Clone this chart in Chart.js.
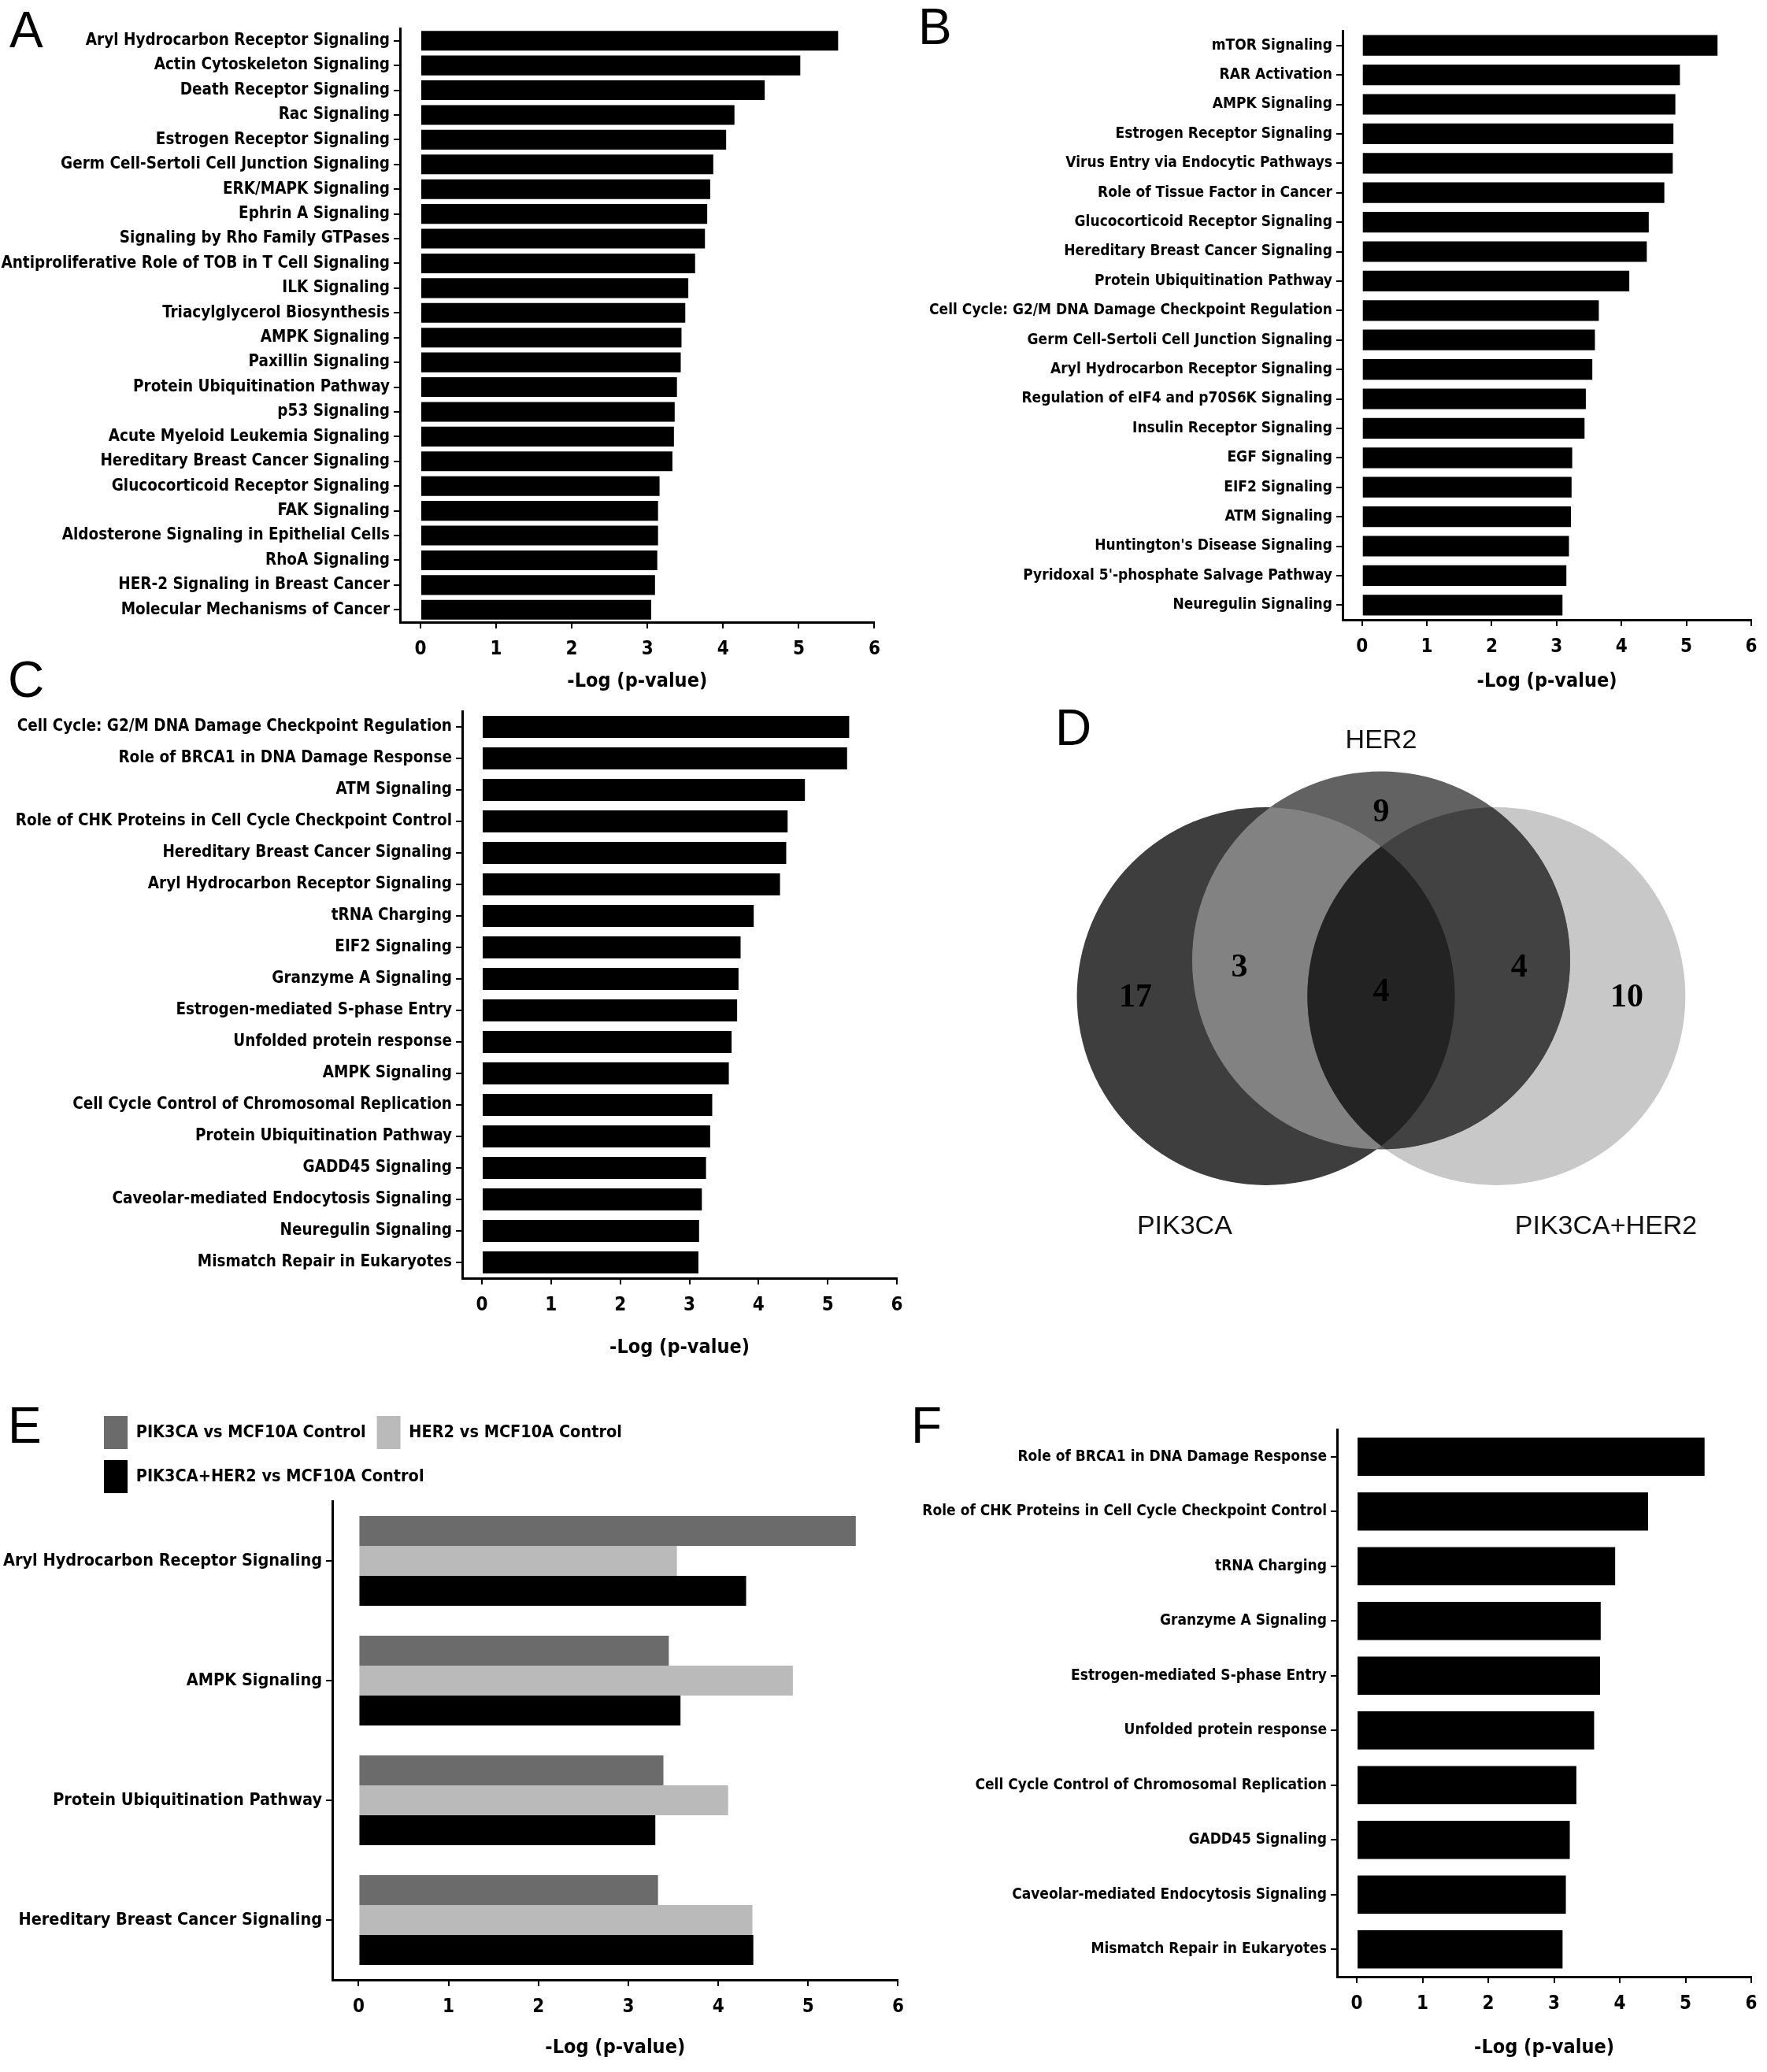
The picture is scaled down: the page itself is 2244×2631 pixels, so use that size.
<!DOCTYPE html>
<html>
<head>
<meta charset="utf-8">
<script src="https://cdn.jsdelivr.net/npm/chart.js@4.4.1/dist/chart.umd.min.js"></script>
<style>
  body { margin: 0; background: #fff; width: 2244px; height: 2631px; position: relative; overflow: hidden; }
  canvas { position: absolute; }
  .tag { position: absolute; font-family: 'Liberation Sans', Arial, sans-serif; font-size: 64px; line-height: 1; color: #000; }
</style>
</head>
<body>
<div class="tag" style="left:12px;top:6px">A</div>
<div class="tag" style="left:1166px;top:2px">B</div>
<div class="tag" style="left:10px;top:831px">C</div>
<div class="tag" style="left:1340px;top:892px">D</div>
<div class="tag" style="left:10px;top:1778px">E</div>
<div class="tag" style="left:1157px;top:1778px">F</div>

<canvas id="chartA" width="1130" height="880" style="left:0;top:0"></canvas>
<canvas id="chartB" width="1122" height="880" style="left:1122px;top:0"></canvas>
<canvas id="chartC" width="1160" height="860" style="left:0;top:880px"></canvas>
<canvas id="chartD" width="1084" height="740" style="left:1160px;top:880px"></canvas>
<canvas id="chartE" width="1160" height="891" style="left:0;top:1740px"></canvas>
<canvas id="chartF" width="1124" height="891" style="left:1120px;top:1740px"></canvas>

<script>
// ---- data ----
const xTickValues = [0, 1, 2, 3, 4, 5, 6];
const axisTitle = "-Log (p-value)";

const pathwaysA = ["Aryl Hydrocarbon Receptor Signaling", "Actin Cytoskeleton Signaling", "Death Receptor Signaling",
  "Rac Signaling", "Estrogen Receptor Signaling", "Germ Cell-Sertoli Cell Junction Signaling", "ERK/MAPK Signaling",
  "Ephrin A Signaling", "Signaling by Rho Family GTPases", "Antiproliferative Role of TOB in T Cell Signaling",
  "ILK Signaling", "Triacylglycerol Biosynthesis", "AMPK Signaling", "Paxillin Signaling",
  "Protein Ubiquitination Pathway", "p53 Signaling", "Acute Myeloid Leukemia Signaling",
  "Hereditary Breast Cancer Signaling", "Glucocorticoid Receptor Signaling", "FAK Signaling",
  "Aldosterone Signaling in Epithelial Cells", "RhoA Signaling", "HER-2 Signaling in Breast Cancer",
  "Molecular Mechanisms of Cancer"];
const valuesA = [5.52, 5.02, 4.55, 4.15, 4.04, 3.87, 3.83, 3.79, 3.76, 3.63, 3.54, 3.50, 3.45, 3.44,
  3.39, 3.36, 3.35, 3.33, 3.16, 3.14, 3.14, 3.13, 3.10, 3.05];

const pathwaysB = ["mTOR Signaling", "RAR Activation", "AMPK Signaling", "Estrogen Receptor Signaling",
  "Virus Entry via Endocytic Pathways", "Role of Tissue Factor in Cancer", "Glucocorticoid Receptor Signaling",
  "Hereditary Breast Cancer Signaling", "Protein Ubiquitination Pathway",
  "Cell Cycle: G2/M DNA Damage Checkpoint Regulation", "Germ Cell-Sertoli Cell Junction Signaling",
  "Aryl Hydrocarbon Receptor Signaling", "Regulation of eIF4 and p70S6K Signaling", "Insulin Receptor Signaling",
  "EGF Signaling", "EIF2 Signaling", "ATM Signaling", "Huntington's Disease Signaling",
  "Pyridoxal 5'-phosphate Salvage Pathway", "Neuregulin Signaling"];
const valuesB = [5.48, 4.90, 4.83, 4.80, 4.79, 4.66, 4.42, 4.39, 4.12, 3.65, 3.59, 3.55, 3.45, 3.43,
  3.24, 3.23, 3.22, 3.19, 3.15, 3.09];

const pathwaysC = ["Cell Cycle: G2/M DNA Damage Checkpoint Regulation", "Role of BRCA1 in DNA Damage Response",
  "ATM Signaling", "Role of CHK Proteins in Cell Cycle Checkpoint Control", "Hereditary Breast Cancer Signaling",
  "Aryl Hydrocarbon Receptor Signaling", "tRNA Charging", "EIF2 Signaling", "Granzyme A Signaling",
  "Estrogen-mediated S-phase Entry", "Unfolded protein response", "AMPK Signaling",
  "Cell Cycle Control of Chromosomal Replication", "Protein Ubiquitination Pathway", "GADD45 Signaling",
  "Caveolar-mediated Endocytosis Signaling", "Neuregulin Signaling", "Mismatch Repair in Eukaryotes"];
const valuesC = [5.31, 5.28, 4.67, 4.42, 4.40, 4.31, 3.93, 3.74, 3.71, 3.69, 3.61, 3.57, 3.33, 3.30,
  3.24, 3.18, 3.14, 3.13];

const vennSets = ["PIK3CA", "HER2", "PIK3CA+HER2"];
const vennRegions = ["PIK3CA only", "HER2 only", "PIK3CA+HER2 only", "PIK3CA & HER2", "HER2 & PIK3CA+HER2", "all three"];
const vennCounts = [17, 9, 10, 3, 4, 4];

const pathwaysE = ["Aryl Hydrocarbon Receptor Signaling", "AMPK Signaling", "Protein Ubiquitination Pathway",
  "Hereditary Breast Cancer Signaling"];
const seriesE = ["PIK3CA vs MCF10A Control", "HER2 vs MCF10A Control", "PIK3CA+HER2 vs MCF10A Control"];
const pik3caE = [5.53, 3.45, 3.39, 3.33];
const her2E = [3.54, 4.83, 4.11, 4.38];
const comboE = [4.31, 3.58, 3.30, 4.39];

const pathwaysF = ["Role of BRCA1 in DNA Damage Response", "Role of CHK Proteins in Cell Cycle Checkpoint Control",
  "tRNA Charging", "Granzyme A Signaling", "Estrogen-mediated S-phase Entry", "Unfolded protein response",
  "Cell Cycle Control of Chromosomal Replication", "GADD45 Signaling", "Caveolar-mediated Endocytosis Signaling",
  "Mismatch Repair in Eukaryotes"];
const valuesF = [5.29, 4.43, 3.93, 3.71, 3.70, 3.61, 3.34, 3.24, 3.18, 3.13];

// ---- look ----
const narrow = "'Liberation Sans Narrow', 'DejaVu Sans Condensed', 'Arial Narrow', sans-serif";
Chart.defaults.font.family = narrow;
Chart.defaults.font.weight = "bold";
Chart.defaults.color = "#000";
Chart.defaults.animation = false;

function axisLine() {
  return { drawOnChartArea: false, drawTicks: true, tickLength: 8, color: "#000", lineWidth: 2 };
}

function xScale(p) {
  return {
    min: p.xMin, max: 6,
    afterBuildTicks: s => { s.ticks = xTickValues.map(v => ({ value: v })); },
    afterFit: s => { s.height = p.xHeight; },
    grid: axisLine(),
    border: { display: true, color: "#000", width: 3 },
    ticks: { font: { size: 24 }, padding: 12, maxRotation: 0 },
    title: { display: true, text: axisTitle, font: { size: 25 }, padding: { top: 0, bottom: p.titlePad } }
  };
}

function yScale(p) {
  return {
    afterFit: s => { s.width = p.yWidth; },
    grid: Object.assign(axisLine(), { offset: false }),
    border: { display: true, color: "#000", width: 3 },
    ticks: { font: { size: p.labelSize }, padding: 5, autoSkip: false }
  };
}

function pathwayChart(id, labels, values, p) {
  return new Chart(document.getElementById(id), {
    type: "bar",
    data: {
      labels: labels,
      datasets: [{ data: values, backgroundColor: "#000", barPercentage: p.barPct, categoryPercentage: 1 }]
    },
    options: {
      indexAxis: "y",
      responsive: false,
      events: [],
      layout: { padding: { top: p.padTop, right: p.padRight, left: 0, bottom: 0 } },
      plugins: { legend: { display: false }, tooltip: { enabled: false } },
      scales: { x: xScale(p), y: yScale(p) }
    }
  });
}

pathwayChart("chartA", pathwaysA, valuesA,
  { xMin: -0.27, yWidth: 508, padTop: 36, padRight: 16, xHeight: 90, titlePad: 0, barPct: 0.8, labelSize: 20.5 });
pathwayChart("chartB", pathwaysB, valuesB,
  { xMin: -0.30, yWidth: 583, padTop: 39, padRight: 20, xHeight: 93, titlePad: 0, barPct: 0.7, labelSize: 19 });
pathwayChart("chartC", pathwaysC, valuesC,
  { xMin: -0.285, yWidth: 587, padTop: 23, padRight: 21, xHeight: 117, titlePad: 14, barPct: 0.7, labelSize: 20.5 });
pathwayChart("chartF", pathwaysF, valuesF,
  { xMin: -0.30, yWidth: 578, padTop: 75, padRight: 20, xHeight: 121, titlePad: 16, barPct: 0.7, labelSize: 19 });

// ---- E: grouped bars ----
// legend is laid out over the plot width (so it wraps to two rows), then pulled left under the panel letter
const legendIndent = {
  id: "legendIndent",
  afterLayout(chart) { chart.legend.left = 118; }
};

const pE = { xMin: -0.293, yWidth: 422, xHeight: 117, titlePad: 16, labelSize: 21.5 };
new Chart(document.getElementById("chartE"), {
  type: "bar",
  data: {
    labels: pathwaysE,
    datasets: [
      { label: seriesE[0], data: pik3caE, backgroundColor: "#6b6b6b" },
      { label: seriesE[1], data: her2E, backgroundColor: "#bababa" },
      { label: seriesE[2], data: comboE, backgroundColor: "#000" }
    ]
  },
  options: {
    indexAxis: "y",
    responsive: false,
    events: [],
    datasets: { bar: { barPercentage: 1, categoryPercentage: 0.75, borderWidth: 0 } },
    layout: { padding: { top: 44, right: 8, left: 0, bottom: 0 } },
    plugins: {
      tooltip: { enabled: false },
      legend: {
        position: "top", align: "start", fullSize: false,
        labels: { boxWidth: 30, boxHeight: 42, padding: 14, font: { size: 21.5 }, color: "#000" }
      }
    },
    scales: { x: xScale(pE), y: yScale(pE) }
  },
  plugins: [legendIndent]
});

// ---- D: Venn diagram on a scatter chart ----
const vennLayout = {
  centers: [[-0.61, 0], [0, 0.19], [0.61, 0]],
  radius: 1,
  fills: ["#3e3e3e", "#626262", "#c8c8c8"],
  overlapFills: { ab: "#828282", bc: "#424242", ac: "#4a4a4a", abc: "#232323" },
  countPos: [[-1.30, -0.01], [0, 0.97], [1.30, -0.01], [-0.75, 0.15], [0.73, 0.15], [0, 0.02]],
  namePos: [[-1.04, -1.22], [0, 1.35], [1.19, -1.22]]
};

const vennPlugin = {
  id: "venn",
  afterDatasetsDraw(chart) {
    const ctx = chart.ctx;
    const xs = chart.scales.x, ys = chart.scales.y;
    const c = chart.data.datasets.map((ds, i) => {
      const el = chart.getDatasetMeta(i).data[0];
      return { x: el.x, y: el.y, r: el.options.radius };
    });
    const path = k => { ctx.beginPath(); ctx.arc(c[k].x, c[k].y, c[k].r, 0, Math.PI * 2); };
    const paint = (clips, k, color) => {
      ctx.save();
      clips.forEach(j => { path(j); ctx.clip(); });
      path(k); ctx.fillStyle = color; ctx.fill();
      ctx.restore();
    };
    const f = vennLayout.overlapFills;
    paint([0], 2, f.ac);
    paint([0], 1, f.ab);
    paint([1], 2, f.bc);
    paint([0, 1], 2, f.abc);

    ctx.save();
    ctx.textAlign = "center";
    ctx.textBaseline = "middle";
    ctx.fillStyle = "#000";
    ctx.font = "bold 42px 'Liberation Serif', 'DejaVu Serif', serif";
    vennCounts.forEach((n, i) => {
      const [px, py] = vennLayout.countPos[i];
      ctx.fillText(String(n), xs.getPixelForValue(px), ys.getPixelForValue(py));
    });
    ctx.font = "34px 'Liberation Sans', Arial, sans-serif";
    ctx.fillStyle = "#111";
    vennSets.forEach((name, i) => {
      const [px, py] = vennLayout.namePos[i];
      ctx.fillText(name, xs.getPixelForValue(px), ys.getPixelForValue(py));
    });
    ctx.restore();
  }
};

const vennRadius = ctx => ctx.chart.scales.x.getPixelForValue(vennLayout.radius) - ctx.chart.scales.x.getPixelForValue(0);

new Chart(document.getElementById("chartD"), {
  type: "scatter",
  data: {
    datasets: vennSets.map((name, i) => ({
      label: name,
      data: [{ x: vennLayout.centers[i][0], y: vennLayout.centers[i][1] }],
      backgroundColor: vennLayout.fills[i],
      borderWidth: 0,
      pointStyle: "circle",
      pointRadius: vennRadius,
      pointHoverRadius: vennRadius
    }))
  },
  options: {
    responsive: false,
    events: [],
    layout: { padding: 0 },
    plugins: { legend: { display: false }, tooltip: { enabled: false } },
    scales: {
      x: { display: false, min: -2.475, max: 2.042 },
      y: { display: false, min: -1.479, max: 1.604 }
    }
  },
  plugins: [vennPlugin]
});
</script>
</body>
</html>
